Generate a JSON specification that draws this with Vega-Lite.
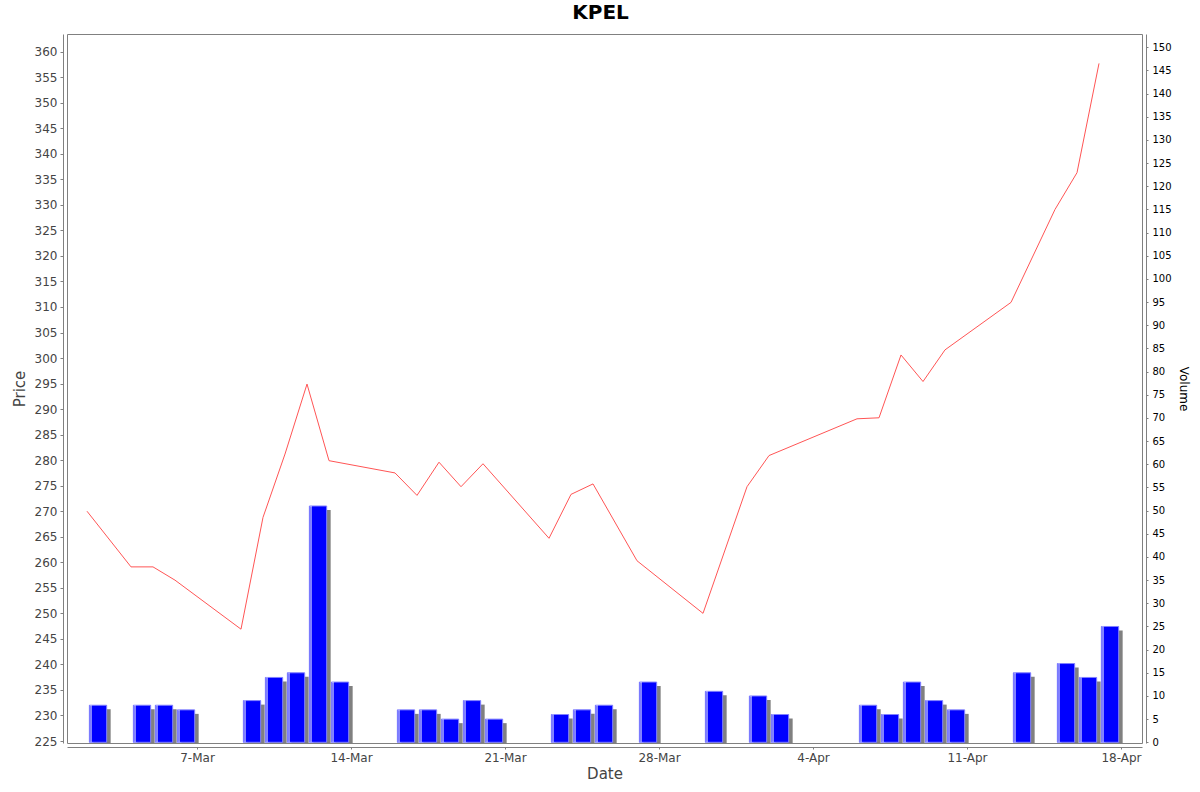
{
  "$schema": "https://vega.github.io/schema/vega-lite/v6.json",
  "autosize": {"type": "none"},
  "padding": {"left": 67, "top": 34, "right": 58, "bottom": 49},
  "width": 1075,
  "height": 709,
  "title": {"text": "KPEL", "fontSize": 20, "font": "DejaVu Sans", "fontWeight": "bold", "color": "#000000", "anchor": "middle", "frame": "group", "baseline": "alphabetic", "offset": 13, "dx": -4, "dy": 18},
  "config": {
    "view": {"stroke": "#808080", "strokeWidth": 1},
    "axis": {"grid": false, "domainColor": "#808080", "tickColor": "#808080", "labelFont": "DejaVu Sans", "titleFont": "DejaVu Sans", "titleFontWeight": "normal"}
  },
  "data": {"values": [
    {"date": "2020-03-02T00:00", "price": 270.0, "volume": 8},
    {"date": "2020-03-04T00:00", "price": 259.1, "volume": 8},
    {"date": "2020-03-05T00:00", "price": 259.1, "volume": 8},
    {"date": "2020-03-06T00:00", "price": 256.5, "volume": 7},
    {"date": "2020-03-09T00:00", "price": 246.9, "volume": 9},
    {"date": "2020-03-10T00:00", "price": 268.8, "volume": 14},
    {"date": "2020-03-11T00:00", "price": 281.2, "volume": 15},
    {"date": "2020-03-12T00:00", "price": 294.9, "volume": 51},
    {"date": "2020-03-13T00:00", "price": 279.9, "volume": 13},
    {"date": "2020-03-16T00:00", "price": 277.5, "volume": 7},
    {"date": "2020-03-17T00:00", "price": 273.1, "volume": 7},
    {"date": "2020-03-18T00:00", "price": 279.6, "volume": 5},
    {"date": "2020-03-19T00:00", "price": 274.8, "volume": 9},
    {"date": "2020-03-20T00:00", "price": 279.3, "volume": 5},
    {"date": "2020-03-23T00:00", "price": 264.7, "volume": 6},
    {"date": "2020-03-24T00:00", "price": 273.3, "volume": 7},
    {"date": "2020-03-25T00:00", "price": 275.35, "volume": 8},
    {"date": "2020-03-27T00:00", "price": 260.3, "volume": 13},
    {"date": "2020-03-30T00:00", "price": 250.0, "volume": 11},
    {"date": "2020-04-01T00:00", "price": 274.8, "volume": 10},
    {"date": "2020-04-02T00:00", "price": 280.9, "volume": 6},
    {"date": "2020-04-06T00:00", "price": 288.1, "volume": 8},
    {"date": "2020-04-07T00:00", "price": 288.3, "volume": 6},
    {"date": "2020-04-08T00:00", "price": 300.6, "volume": 13},
    {"date": "2020-04-09T00:00", "price": 295.4, "volume": 9},
    {"date": "2020-04-10T00:00", "price": 301.6, "volume": 7},
    {"date": "2020-04-13T00:00", "price": 310.9, "volume": 15},
    {"date": "2020-04-15T00:00", "price": 329.1, "volume": 17},
    {"date": "2020-04-16T00:00", "price": 336.3, "volume": 14},
    {"date": "2020-04-17T00:00", "price": 357.7, "volume": 25}
  ]},
  "encoding": {
    "x": {
      "field": "date", "type": "temporal",
      "scale": {"type": "time", "padding": 0, "domain": [
        {"year": 2020, "month": 3, "date": 1, "hours": 2, "minutes": 10},
        {"year": 2020, "month": 4, "date": 18, "hours": 22, "minutes": 54}
      ], "nice": false},
      "axis": {
        "title": "Date", "titleFontSize": 15, "titleColor": "#444444", "titlePadding": 3,
        "labelFontSize": 12, "labelColor": "#444444", "labelPadding": 3,
        "tickSize": 2, "offset": 4, "format": "%-d-%b", "labelFlush": false,
        "values": [
          {"year": 2020, "month": 3, "date": 7},
          {"year": 2020, "month": 3, "date": 14},
          {"year": 2020, "month": 3, "date": 21},
          {"year": 2020, "month": 3, "date": 28},
          {"year": 2020, "month": 4, "date": 4},
          {"year": 2020, "month": 4, "date": 11},
          {"year": 2020, "month": 4, "date": 18}
        ]
      }
    }
  },
  "layer": [
    {
      "encoding": {
        "y": {
          "field": "volume", "type": "quantitative",
          "scale": {"domain": [-0.15, 152.87], "nice": false, "zero": false},
          "axis": {
            "orient": "right", "title": "Volume", "titleFontSize": 12, "titleColor": "#000000", "titlePadding": 5,
            "labelFontSize": 10, "labelColor": "#000000", "labelPadding": 4, "tickSize": 2, "offset": 4,
            "values": [0,5,10,15,20,25,30,35,40,45,50,55,60,65,70,75,80,85,90,95,100,105,110,115,120,125,130,135,140,145,150]
          }
        }
      },
      "layer": [
        {"mark": {"type": "bar", "width": 17.3, "xOffset": 15, "yOffset": 4, "color": "#808080", "clip": true}},
        {"mark": {"type": "bar", "width": 17.3, "xOffset": 11, "color": "#0000ff", "stroke": "#8080ff", "strokeWidth": 1}},
        {"mark": {"type": "bar", "width": 1.2, "xOffset": 4, "color": "#ffffff", "opacity": 0.85}}
      ]
    },
    {
      "mark": {"type": "line", "color": "#ff5555", "strokeWidth": 1},
      "encoding": {
        "y": {
          "field": "price", "type": "quantitative",
          "scale": {"domain": [224.61, 363.46], "nice": false, "zero": false},
          "axis": {
            "orient": "left", "title": "Price", "titleFontSize": 15, "titleColor": "#444444", "titlePadding": 7,
            "labelFontSize": 12, "labelColor": "#444444", "labelPadding": 3, "tickSize": 3, "offset": 4,
            "values": [225,230,235,240,245,250,255,260,265,270,275,280,285,290,295,300,305,310,315,320,325,330,335,340,345,350,355,360]
          }
        }
      }
    }
  ],
  "resolve": {"scale": {"y": "independent"}}
}
